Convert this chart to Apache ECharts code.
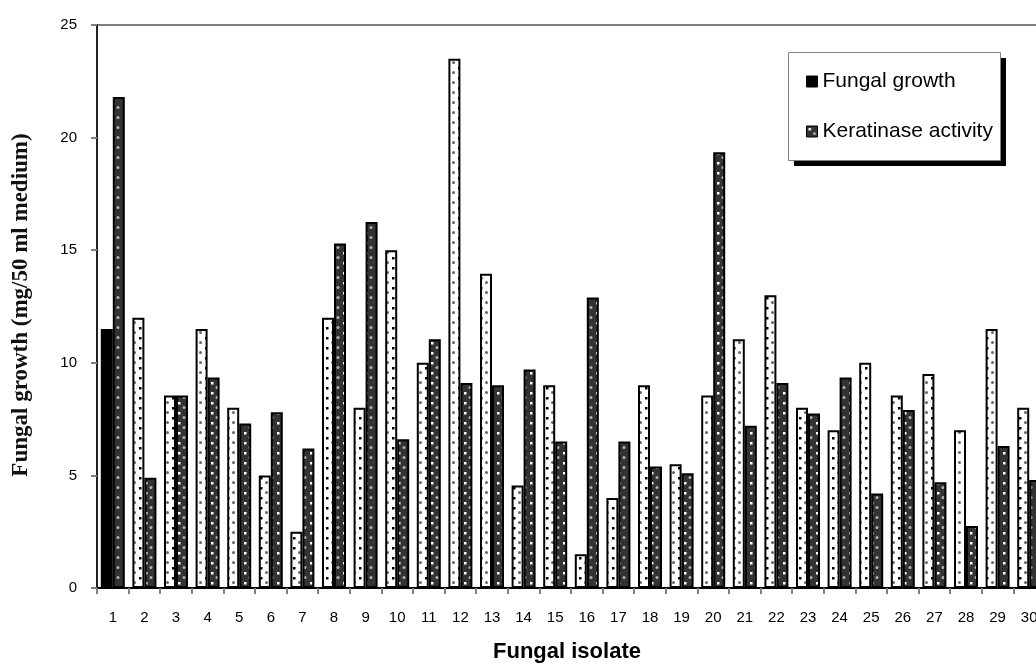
<!DOCTYPE html>
<html>
<head>
<meta charset="utf-8">
<script src="https://cdn.jsdelivr.net/npm/echarts@6/dist/echarts.min.js"></script>
<style>html,body{margin:0;padding:0;background:#fff}#c{width:1036px;height:668px}</style>
</head>
<body>
<div id="c"></div>
<script>
// ---- data ----
var isolates = ['1','2','3','4','5','6','7','8','9','10','11','12','13','14','15','16','17','18','19','20','21','22','23','24','25','26','27','28','29','30'];
var fungalGrowth = [11.5,12.0,8.55,11.5,8.0,5.0,2.5,12.0,8.0,15.0,10.0,23.5,13.95,4.55,9.0,1.5,4.0,9.0,5.5,8.55,11.05,13.0,8.0,7.0,10.0,8.55,9.5,7.0,11.5,8.0];
var keratinaseActivity = [21.8,4.9,8.55,9.35,7.3,7.8,6.2,15.3,16.25,6.6,11.05,9.1,9.0,9.7,6.5,12.9,6.5,5.4,5.1,19.35,7.2,9.1,7.75,9.35,4.2,7.9,4.7,2.75,6.3,4.8];
var yTicks = [0,5,10,15,20,25];

// ---- patterns (style) ----
function tile(bg, draw){
  var c=document.createElement('canvas'); c.width=11; c.height=10;
  var g=c.getContext('2d'); g.fillStyle=bg; g.fillRect(0,0,11,10); draw(g); return c;
}
var patA = tile('#ffffff', function(g){
  g.fillStyle='#666666'; g.beginPath(); g.arc(2.5,2.5,1.5,0,Math.PI*2); g.fill();
  g.fillStyle='#000'; g.fillRect(7,7,2.5,2.5);
});
var patB = tile('#333333', function(g){
  g.fillStyle='#ffffff'; g.fillRect(2,2,2.5,2.5);
  g.fillStyle='#b0b0b0'; g.beginPath(); g.arc(8,7.5,1.5,0,Math.PI*2); g.fill();
});

var chart = echarts.init(document.getElementById('c'), null, {renderer:'canvas'});
var dataA = fungalGrowth.map(function(v,i){
  return i===0 ? {value:v, itemStyle:{color:'#000'}} : v;
});
chart.setOption({
  animation:false,
  backgroundColor:'#fff',
  grid:{left:97, top:25, height:563, width:948, outerBoundsMode:'none', containLabel:false,
        show:true, borderColor:'#808080', borderWidth:2, backgroundColor:'transparent'},
  xAxis:{
    type:'category', data:isolates,
    axisLine:{lineStyle:{color:'#000', width:2}},
    axisTick:{show:true, length:6, lineStyle:{color:'#808080', width:2}},
    axisLabel:{color:'#000', fontFamily:'Liberation Sans', fontSize:15, margin:22}
  },
  yAxis:{
    type:'value', min:0, max:25, interval:5,
    axisLine:{show:true, lineStyle:{color:'#222', width:2}},
    axisTick:{show:true, length:6, lineStyle:{color:'#808080', width:2}},
    splitLine:{show:false},
    axisLabel:{color:'#000', fontFamily:'Liberation Sans', fontSize:15, margin:20,
      formatter:function(v){return yTicks.indexOf(v)>=0?String(v):'';}}
  },
  legend:{
    orient:'vertical', left:801, top:66, itemWidth:11, itemHeight:11, itemGap:29,
    textStyle:{fontFamily:'Liberation Sans', fontSize:21, color:'#000'},
    data:[
      {name:'Fungal growth', icon:'rect', itemStyle:{color:'#000', borderColor:'#000', borderWidth:1}},
      {name:'Keratinase activity', icon:'rect', itemStyle:{color:{image:patB, repeat:'repeat'}, borderColor:'#000', borderWidth:1}}
    ]
  },
  graphic:[
    {type:'rect', shape:{x:794, y:58, width:212, height:108}, style:{fill:'#000'}, z:0},
    {type:'rect', shape:{x:788.5, y:52.5, width:212, height:108}, style:{fill:'#fff', stroke:'#808080', lineWidth:1}, z:1},
    {type:'text', x:567, y:652, style:{text:'Fungal isolate', font:'bold 22px "Liberation Sans"', fill:'#000', textAlign:'center', textVerticalAlign:'middle'}},
    {type:'text', x:21, y:305, rotation:Math.PI/2, style:{text:'Fungal growth (mg/50 ml medium)', font:'bold 23px "Liberation Serif"', fill:'#111', textAlign:'center', textVerticalAlign:'middle'}}
  ],
  series:[
    {name:'Fungal growth', type:'bar', data:dataA, barWidth:12, barGap:'0%',
     itemStyle:{color:{image:patA, repeat:'repeat'}, borderColor:'#000', borderWidth:2}},
    {name:'Keratinase activity', type:'bar', data:keratinaseActivity, barWidth:12, barGap:'0%',
     itemStyle:{color:{image:patB, repeat:'repeat'}, borderColor:'#000', borderWidth:2}}
  ]
});
</script>
</body>
</html>
